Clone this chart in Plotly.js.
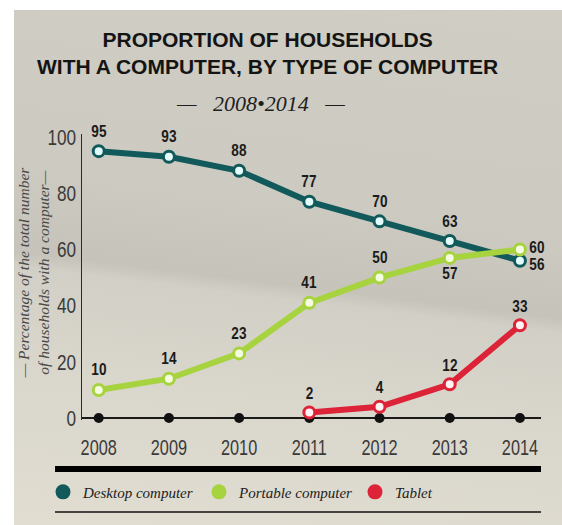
<!DOCTYPE html>
<html><head><meta charset="utf-8">
<script src="https://cdn.plot.ly/plotly-3.0.1.min.js"></script>
<style>
html,body{margin:0;padding:0;background:#fff;width:562px;height:525px;overflow:hidden}
#chart{position:absolute;left:14px;top:10px;width:548px;height:515px;
background:linear-gradient(187deg,#cfcdc4 0%,#cccac1 38%,#c5c3ba 53%,#d2cfc6 55.5%,#d9d6cc 72%,#e1ddd1 100%);}
</style></head>
<body><div id="chart"></div>
<script>
const years = [2008, 2009, 2010, 2011, 2012, 2013, 2014];
const desktop = [95, 93, 88, 77, 70, 63, 56];
const portable = [10, 14, 23, 41, 50, 57, 60];
const tabletYears = [2011, 2012, 2013, 2014];
const tablet = [2, 4, 12, 33];
const baseline = [0, 0, 0, 0, 0, 0, 0];
const seriesNames = ['Desktop computer', 'Portable computer', 'Tablet'];
const yTicks = [0, 20, 40, 60, 80, 100];

const cDesk = '#11595a', cPort = '#a7d33e', cTab = '#dd2338';
const mk = (c, fill) => ({size: 11, color: fill, line: {color: c, width: 3}});

const traces = [
  {x: years, y: baseline, mode: 'markers', marker: {size: 10, color: '#111'}, showlegend: false, cliponaxis: false, hoverinfo: 'skip'},
  {x: years, y: desktop, mode: 'lines+markers', line: {color: cDesk, width: 6}, marker: mk(cDesk, '#e4fbfb'), showlegend: false, cliponaxis: false},
  {x: years, y: portable, mode: 'lines+markers', line: {color: cPort, width: 6}, marker: mk(cPort, '#f4fbe0'), showlegend: false, cliponaxis: false},
  {x: tabletYears, y: tablet, mode: 'lines+markers', line: {color: cTab, width: 6}, marker: mk(cTab, '#fff2f2'), showlegend: false, cliponaxis: false},
  {x: [null], y: [null], mode: 'markers', name: seriesNames[0], marker: {size: 15, color: cDesk}},
  {x: [null], y: [null], mode: 'markers', name: seriesNames[1], marker: {size: 15, color: cPort}},
  {x: [null], y: [null], mode: 'markers', name: seriesNames[2], marker: {size: 15, color: cTab}}
];

const lblFont = {family: '"Liberation Sans", Arial', size: 16, color: '#1b1b1b', weight: 700};
const annotations = [];
function addLabels(xs, ys, placeFn) {
  xs.forEach((x, i) => {
    const p = placeFn(i);
    annotations.push({x: x, y: ys[i], xref: 'x', yref: 'y', text: '<b>' + ys[i] + '</b>', showarrow: false,
      font: lblFont, xanchor: p.xa || 'center', yanchor: 'middle', xshift: p.dx || 0, yshift: p.dy || 0});
  });
}
addLabels(years, desktop, i => i === 6 ? {xa: 'left', dx: 6, dy: -4} : {dy: 20});
addLabels(years, portable, i => i === 6 ? {xa: 'left', dx: 6, dy: 2} : (i === 5 ? {dy: -16} : {dy: 20}));
addLabels(tabletYears, tablet, i => ({dy: 19}));
const nDataLabels = annotations.length;

annotations.push({xref: 'paper', yref: 'paper', x: 0.405, y: 1.2824, text: 'PROPORTION OF HOUSEHOLDS<br>WITH A COMPUTER, BY TYPE OF COMPUTER', showarrow: false,
  font: {family: '"Liberation Sans", Arial', size: 21, color: '#141414', weight: 700}, xanchor: 'center', yanchor: 'middle'});
annotations.push({xref: 'paper', yref: 'paper', x: 0.388, y: 1.105, text: '—&nbsp;&nbsp;&nbsp;2008•2014&nbsp;&nbsp;&nbsp;—', showarrow: false,
  font: {family: '"Liberation Serif", "DejaVu Serif", serif', size: 22, color: '#1e1e1e', style: 'italic'}, xanchor: 'center', yanchor: 'middle'});
annotations.push({xref: 'paper', yref: 'paper', x: -0.1057, y: 0.517, text: '— Percentage of the total number<br>of households with a computer—', showarrow: false, textangle: -90,
  font: {family: '"Liberation Serif", "DejaVu Serif", serif', size: 15.5, color: '#4a4a4a', style: 'italic'}, xanchor: 'center', yanchor: 'middle'});

const layout = {
  width: 548, height: 515,
  margin: {l: 68, r: 21, t: 124, b: 105, autoexpand: false},
  paper_bgcolor: 'rgba(0,0,0,0)', plot_bgcolor: 'rgba(0,0,0,0)',
  showlegend: true,
  legend: {orientation: 'h', x: -0.085, y: -0.252, xanchor: 'left', yanchor: 'middle', bgcolor: 'rgba(0,0,0,0)',
    font: {family: '"Liberation Serif", "DejaVu Serif", serif', size: 15, color: '#222', style: 'italic'},
    entrywidth: 111, entrywidthmode: 'pixels', itemwidth: 30},
  xaxis: {range: [2007.762, 2014.30], tickvals: years, ticktext: years.map(String), showgrid: false, zeroline: false, showline: false,
    ticks: '', ticklabelstandoff: 12, tickfont: {family: '"Liberation Sans", Arial', size: 22, color: '#3a3a3a'}},
  yaxis: {range: [-0.7, 101.1], tickvals: yTicks, showgrid: false, zeroline: true, zerolinecolor: '#1a1a1a', zerolinewidth: 1.5,
    showline: true, linecolor: '#2a2a2a', linewidth: 1.5, ticks: '', ticklabelstandoff: 0,
    tickfont: {family: '"Liberation Sans", Arial', size: 22, color: '#3a3a3a'}},
  shapes: [
    {type: 'line', xref: 'paper', yref: 'paper', x0: -0.0588, x1: 1.0, y0: -0.171, y1: -0.171, line: {color: '#000', width: 6}},
    {type: 'line', xref: 'paper', yref: 'paper', x0: -0.0588, x1: 1.0, y0: -0.3217, y1: -0.3217, line: {color: '#111', width: 1.5}}
  ],
  annotations: annotations,
  hovermode: false
};

// horizontally condense text around its own anchor point (emulates a condensed typeface)
function condense(nodes, s) {
  nodes.forEach(t => {
    const x = parseFloat(t.getAttribute('x')) || 0;
    const old = t.getAttribute('transform') || '';
    t.setAttribute('transform', old + ' translate(' + x + ',0) scale(' + s + ',1) translate(' + (-x) + ',0)');
  });
}
Plotly.newPlot('chart', traces, layout, {displayModeBar: false, staticPlot: true}).then(gd => {
  condense(gd.querySelectorAll('.xtick text'), 0.74);
  condense(gd.querySelectorAll('.ytick text'), 0.78);
  const dl = [];
  for (let i = 0; i < nDataLabels; i++) {
    const t = gd.querySelector('.annotation[data-index="' + i + '"] text');
    if (t) dl.push(t);
  }
  condense(dl, 0.85);
});
</script></body></html>
